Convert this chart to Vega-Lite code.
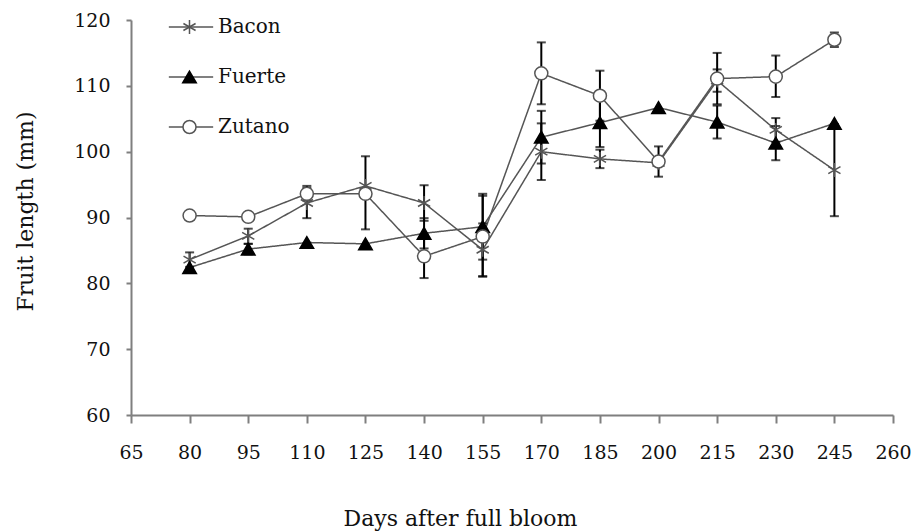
{
  "$schema": "https://vega.github.io/schema/vega-lite/v6.json",
  "width": 762,
  "height": 395,
  "autosize": "none",
  "padding": {"left": 131, "top": 20, "right": 23, "bottom": 116},
  "background": "white",
  "config": {
    "font": "DejaVu Serif",
    "view": {"stroke": null},
    "axis": {
      "grid": false,
      "domainColor": "#7f7f7f",
      "domainWidth": 2,
      "tickColor": "#7f7f7f",
      "tickWidth": 2,
      "labelFont": "DejaVu Serif",
      "labelFontSize": 19,
      "labelColor": "#111",
      "titleFont": "DejaVu Serif",
      "titleFontSize": 22,
      "titleFontWeight": "normal",
      "titleColor": "#111"
    },
    "legend": {
      "labelFont": "DejaVu Serif",
      "labelFontSize": 20,
      "labelColor": "#111"
    }
  },
  "data": {
    "values": [
      {"cultivar": "Bacon", "day": 80, "length": 83.6, "lo": 82.5, "hi": 84.7},
      {"cultivar": "Bacon", "day": 95, "length": 87.2, "lo": 86.0, "hi": 88.3},
      {"cultivar": "Bacon", "day": 110, "length": 92.2, "lo": 89.9, "hi": 94.5},
      {"cultivar": "Bacon", "day": 125, "length": 94.8},
      {"cultivar": "Bacon", "day": 140, "length": 92.2, "lo": 89.5, "hi": 94.9},
      {"cultivar": "Bacon", "day": 155, "length": 85.1, "lo": 81.1, "hi": 89.1},
      {"cultivar": "Bacon", "day": 170, "length": 100.0, "lo": 95.7, "hi": 104.3},
      {"cultivar": "Bacon", "day": 185, "length": 98.9, "lo": 97.5, "hi": 100.3},
      {"cultivar": "Bacon", "day": 200, "length": 98.3},
      {"cultivar": "Bacon", "day": 215, "length": 110.8, "lo": 109.1, "hi": 112.5},
      {"cultivar": "Bacon", "day": 230, "length": 103.3, "lo": 101.5, "hi": 105.1},
      {"cultivar": "Bacon", "day": 245, "length": 97.2, "lo": 90.2, "hi": 104.2},
      {"cultivar": "Fuerte", "day": 80, "length": 82.4},
      {"cultivar": "Fuerte", "day": 95, "length": 85.2, "lo": 84.4, "hi": 86.0},
      {"cultivar": "Fuerte", "day": 110, "length": 86.2},
      {"cultivar": "Fuerte", "day": 125, "length": 86.0},
      {"cultivar": "Fuerte", "day": 140, "length": 87.6, "lo": 85.3, "hi": 89.9},
      {"cultivar": "Fuerte", "day": 155, "length": 88.6, "lo": 83.6, "hi": 93.6},
      {"cultivar": "Fuerte", "day": 170, "length": 102.2, "lo": 98.2, "hi": 106.2},
      {"cultivar": "Fuerte", "day": 185, "length": 104.4, "lo": 100.7, "hi": 108.1},
      {"cultivar": "Fuerte", "day": 200, "length": 106.7},
      {"cultivar": "Fuerte", "day": 215, "length": 104.5, "lo": 102.0, "hi": 107.0},
      {"cultivar": "Fuerte", "day": 230, "length": 101.3, "lo": 98.7, "hi": 103.9},
      {"cultivar": "Fuerte", "day": 245, "length": 104.3},
      {"cultivar": "Zutano", "day": 80, "length": 90.3},
      {"cultivar": "Zutano", "day": 95, "length": 90.1},
      {"cultivar": "Zutano", "day": 110, "length": 93.6, "lo": 92.6, "hi": 94.8},
      {"cultivar": "Zutano", "day": 125, "length": 93.6, "lo": 88.2, "hi": 99.3},
      {"cultivar": "Zutano", "day": 140, "length": 84.1, "lo": 80.8, "hi": 87.4},
      {"cultivar": "Zutano", "day": 155, "length": 87.1, "lo": 81.0, "hi": 93.3},
      {"cultivar": "Zutano", "day": 170, "length": 111.9, "lo": 107.2, "hi": 116.6},
      {"cultivar": "Zutano", "day": 185, "length": 108.5, "lo": 104.7, "hi": 112.3},
      {"cultivar": "Zutano", "day": 200, "length": 98.5, "lo": 96.2, "hi": 100.8},
      {"cultivar": "Zutano", "day": 215, "length": 111.1, "lo": 107.2, "hi": 115.0},
      {"cultivar": "Zutano", "day": 230, "length": 111.4, "lo": 108.3, "hi": 114.6},
      {"cultivar": "Zutano", "day": 245, "length": 117.0, "lo": 115.9, "hi": 118.1}
    ]
  },
  "encoding": {
    "x": {
      "field": "day",
      "type": "quantitative",
      "scale": {"domain": [65, 260], "nice": false, "zero": false},
      "axis": {
        "title": "Days after full bloom",
        "values": [65, 80, 95, 110, 125, 140, 155, 170, 185, 200, 215, 230, 245, 260],
        "tickSize": 8,
        "labelPadding": 20,
        "labelFlush": false,
        "labelOverlap": false,
        "titleX": 329,
        "titleY": 103,
        "titleBaseline": "middle"
      }
    }
  },
  "layer": [
    {
      "mark": {"type": "line", "color": "#555", "strokeWidth": 1.5},
      "encoding": {
        "y": {
          "field": "length",
          "type": "quantitative",
          "scale": {"domain": [60, 120], "nice": false, "zero": false},
          "axis": {
            "title": "Fruit length (mm)",
            "values": [60, 70, 80, 90, 100, 110, 120],
            "tickSize": 5,
            "labelPadding": 16,
            "titleX": -106,
            "titleY": 191,
            "titleBaseline": "middle",
            "titleAngle": -90
          }
        },
        "strokeDash": {
          "field": "cultivar",
          "type": "nominal",
          "scale": {"range": [[1, 0], [1, 0], [1, 0]]},
          "legend": {
            "title": null,
            "orient": "none",
            "legendX": 50,
            "legendY": -3,
            "symbolType": "M-3.4,0L3.4,0",
            "symbolSize": 170,
            "symbolStrokeWidth": 1.5,
            "symbolStrokeColor": "#555",
            "labelOffset": 17,
            "rowPadding": 30
          }
        }
      }
    },
    {
      "mark": {"type": "rule", "color": "black", "strokeWidth": 2},
      "encoding": {
        "y": {"field": "lo", "type": "quantitative"},
        "y2": {"field": "hi"}
      }
    },
    {
      "mark": {"type": "tick", "color": "black", "orient": "horizontal", "size": 9, "thickness": 2},
      "encoding": {"y": {"field": "lo", "type": "quantitative"}}
    },
    {
      "mark": {"type": "tick", "color": "black", "orient": "horizontal", "size": 9, "thickness": 2},
      "encoding": {"y": {"field": "hi", "type": "quantitative"}}
    },
    {
      "mark": {"type": "point", "filled": true, "strokeWidth": 1.5, "opacity": 1},
      "encoding": {
        "y": {"field": "length", "type": "quantitative"},
        "shape": {
          "field": "cultivar",
          "type": "nominal",
          "scale": {
            "domain": ["Bacon", "Fuerte", "Zutano"],
            "range": ["M0,-1L0,1M-0.87,-0.5L0.87,0.5M-0.87,0.5L0.87,-0.5", "triangle-up", "circle"]
          },
          "legend": {
            "title": null,
            "orient": "none",
            "legendX": 48.5,
            "legendY": -3,
            "symbolStrokeWidth": 1.5,
            "symbolOpacity": 1,
            "labelOpacity": 0,
            "labelOffset": 17,
            "rowPadding": 30
          }
        },
        "fill": {
          "field": "cultivar",
          "type": "nominal",
          "scale": {"domain": ["Bacon", "Fuerte", "Zutano"], "range": ["white", "black", "white"]}
        },
        "stroke": {
          "field": "cultivar",
          "type": "nominal",
          "scale": {"domain": ["Bacon", "Fuerte", "Zutano"], "range": ["#555", "black", "#555"]}
        },
        "size": {
          "field": "cultivar",
          "type": "nominal",
          "scale": {"domain": ["Bacon", "Fuerte", "Zutano"], "range": [196, 170, 256]}
        }
      }
    }
  ]
}
